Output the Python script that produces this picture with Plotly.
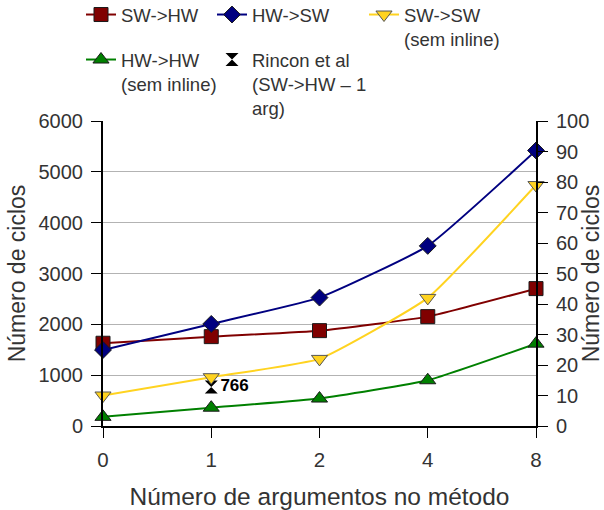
import plotly.graph_objects as go

# Número de argumentos (categorias do eixo X)
args = ["0", "1", "2", "4", "8"]

# Séries em ciclos (eixo esquerdo)
sw_hw = [1628, 1758, 1876, 2152, 2703]
hw_sw = [1496, 2008, 2526, 3543, 5420]

# Séries em ciclos (eixo direito)
sw_sw = [10, 16, 22, 42, 79]
hw_hw = [3, 6, 9, 15, 27]

# Referência de Rincon et al (SW->HW, 1 argumento)
rincon_x = ["1"]
rincon_y = [766]

left_ticks = [0, 1000, 2000, 3000, 4000, 5000, 6000]
right_ticks = [0, 10, 20, 30, 40, 50, 60, 70, 80, 90, 100]

FONT = "Liberation Sans, Arial, sans-serif"
TXT = "#333333"

# posição de cada categoria no eixo X
pos = {a: i for i, a in enumerate(args)}
xs = [pos[a] for a in args]

fig = go.Figure()

def serie(y, name, color, symbol, size, edge, legend, yaxis="y"):
    fig.add_trace(go.Scatter(
        x=xs, y=y, name=name, mode="lines+markers", yaxis=yaxis,
        line=dict(color=color, width=2, shape="spline", smoothing=0.4),
        marker=dict(symbol=symbol, size=size, color=color,
                    line=dict(color=edge, width=1)),
        cliponaxis=False, legend=legend,
    ))

serie(hw_hw, "HW->HW<br>(sem inline)", "#008000", "triangle-up", 14, "#1a1a1a", "legend4", "y2")
serie(sw_sw, "SW->SW<br>(sem inline)", "#FFD320", "triangle-down", 14, "#555555", "legend3", "y2")
serie(sw_hw, "SW->HW", "#800000", "square", 14, "#1a1a1a", "legend")
serie(hw_sw, "HW->SW", "#000080", "diamond", 13, "#1a1a1a", "legend2")

fig.add_trace(go.Scatter(
    x=[pos[a] for a in rincon_x], y=rincon_y, name="Rincon et al<br>(SW->HW \u2013 1<br>arg)",
    mode="markers+text", text=[str(v) for v in rincon_y], textposition="middle right",
    textfont=dict(family=FONT, size=17, color="#000000"),
    texttemplate="<b>%{text}</b>",
    marker=dict(symbol="hourglass", size=13, color="#000000"),
    cliponaxis=False, legend="legend5",
))

W, H = 604, 510
L, R, T, B = 103, 68, 121, 84

def leg(px, py):
    return dict(font=dict(family=FONT, size=18.5, color=TXT), bgcolor="rgba(0,0,0,0)",
                borderwidth=0, xanchor="left", yanchor="top", valign="top",
                itemwidth=30, tracegroupgap=0,
                x=(px - L) / (W - L - R), y=1 + (T - py) / (H - T - B))

fig.update_layout(
    width=W, height=H,
    margin=dict(l=L, r=R, t=T, b=B, autoexpand=False),
    paper_bgcolor="white", plot_bgcolor="white",
    font=dict(family=FONT, size=20, color=TXT),
    showlegend=True,
    legend=leg(81, -4),
    legend2=leg(212, -4),
    legend3=leg(364, -4),
    legend4=leg(81, 41),
    legend5=leg(212, 41),
    xaxis=dict(
        range=[0, len(args) - 1], tickvals=xs, ticktext=args, automargin=False,
        showline=True, linecolor="#000000", linewidth=2,
        ticks="outside", ticklen=10, tickcolor="#000000", tickwidth=1,
        showgrid=False, zeroline=False, tickfont=dict(size=20.5, color=TXT),
        ticklabelstandoff=4,
        title=dict(text="Número de argumentos no método", font=dict(size=24.5, color=TXT), standoff=20),
    ),
    yaxis=dict(
        range=[0, 6000], tickvals=left_ticks, automargin=False,
        showline=True, linecolor="#000000", linewidth=2,
        ticks="outside", ticklen=10, tickcolor="#000000", tickwidth=1,
        showgrid=True, gridcolor="#b3b3b3", gridwidth=1, zeroline=False,
        tickfont=dict(size=20, color=TXT), ticklabelstandoff=4,
        title=dict(text="Número de ciclos", font=dict(size=23, color=TXT), standoff=6),
    ),
    yaxis2=dict(
        range=[0, 100], tickvals=right_ticks, overlaying="y", side="right", automargin=False,
        showline=True, linecolor="#000000", linewidth=2,
        ticks="outside", ticklen=10, tickcolor="#000000", tickwidth=1,
        showgrid=False, zeroline=False,
        tickfont=dict(size=20, color=TXT), ticklabelstandoff=4,
        title=dict(text="Número de ciclos", font=dict(size=23, color=TXT), standoff=3),
    ),
)

fig.write_html("out.html")
